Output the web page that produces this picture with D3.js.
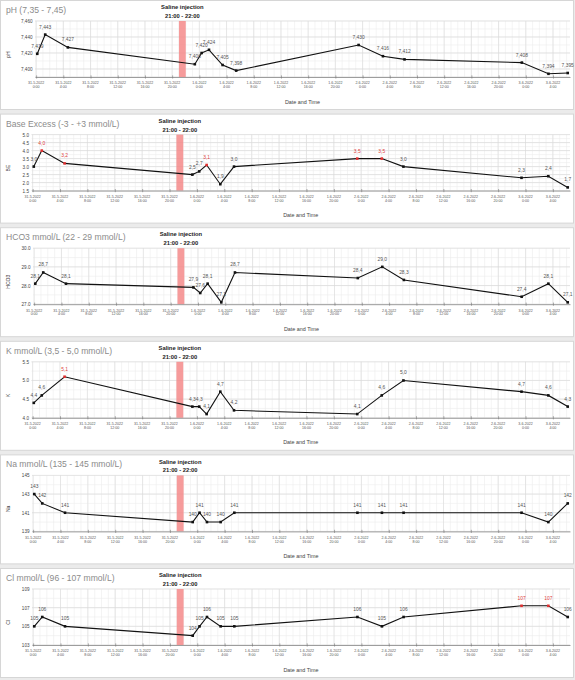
<!DOCTYPE html>
<html>
<head>
<meta charset="utf-8">
<title>Blood values around saline injection</title>
<script src="https://d3js.org/d3.v7.min.js"></script>
<style>
  body { margin: 0; background: #ebebeb; font-family: "Liberation Sans", Arial, sans-serif; }
  svg { display: block; }
</style>
</head>
<body>
<script>
// sample moments (same for every panel)
var sampleTimes = [
  "2022-05-31 00:10", "2022-05-31 01:20", "2022-05-31 04:40", "2022-05-31 23:20",
  "2022-06-01 00:20", "2022-06-01 01:25", "2022-06-01 03:25", "2022-06-01 05:25",
  "2022-06-01 23:25", "2022-06-02 03:00", "2022-06-02 06:10", "2022-06-02 23:25",
  "2022-06-03 03:20", "2022-06-03 06:10"
];
var saline = ["2022-05-31 21:00", "2022-05-31 22:00"];

var phValues   = [7.419, 7.443, 7.427, 7.406, 7.420, 7.424, 7.405, 7.398, 7.430, 7.416, 7.412, 7.408, 7.394, 7.395];
var beValues   = [3.0, 4.0, 3.2, 2.5, 2.7, 3.1, 1.9, 3.0, 3.5, 3.5, 3.0, 2.3, 2.4, 1.7];
var hco3Values = [28.1, 28.7, 28.1, 27.9, 27.6, 28.1, 27.1, 28.7, 28.4, 29.0, 28.3, 27.4, 28.1, 27.1];
var kValues    = [4.4, 4.6, 5.1, 4.3, 4.3, 4.1, 4.7, 4.2, 4.1, 4.6, 5.0, 4.7, 4.6, 4.3];
var naValues   = [143, 142, 141, 140, 141, 140, 140, 141, 141, 141, 141, 141, 140, 142];
var clValues   = [105, 106, 105, 104, 105, 106, 105, 105, 106, 105, 106, 107.2, 107.2, 106];

var titles  = ["pH (7,35 - 7,45)", "Base Excess (-3 - +3 mmol/L)", "HCO3 mmol/L (22 - 29 mmol/L)",
               "K mmol/L (3,5 - 5,0 mmol/L)", "Na mmol/L (135 - 145 mmol/L)", "Cl mmol/L (96 - 107 mmol/L)"];
var yTitles = ["pH", "BE", "HCO3", "K", "Na", "Cl"];
var normalRanges = [[7.35, 7.45], [-3, 3], [22, 29], [3.5, 5.0], [135, 145], [96, 107]];
var yTicks = [
  [7.39, 7.40, 7.42, 7.44, 7.46],
  [1.5, 2.0, 2.5, 3.0, 3.5, 4.0, 4.5, 5.0],
  [27, 28, 29, 30],
  [4.0, 4.5, 5.0, 5.5],
  [139, 141, 143, 145],
  [103, 105, 107, 109]
];
var allValues = [phValues, beValues, hco3Values, kValues, naValues, clValues];

var parseTime = d3.timeParse("%Y-%m-%d %H:%M");
var times = sampleTimes.map(parseTime);

var width = 575, height = 680;
var panelStep = 113.6, panelH = 109;
var plotTop = 21, plotBottom = 77, plotRight = 570;

var svg = d3.select("body").append("svg")
    .attr("width", width)
    .attr("height", height);

function comma(s) { return s.replace(".", ","); }

var panels = [
  { left: 35, tickFmt: function(v) { return v === 7.39 ? "" : comma(d3.format(".3f")(v)); }, labelFmt: function(v) { return comma(d3.format(".3f")(v)); }, minor: 0.01 },
  { left: 31.5, tickFmt: d3.format(".1f"), labelFmt: function(v) { return comma(d3.format(".1f")(v)); }, minor: 0.25 },
  { left: 33, tickFmt: d3.format(".1f"), labelFmt: function(v) { return comma(d3.format(".1f")(v)); }, minor: 0.5 },
  { left: 31.5, tickFmt: d3.format(".1f"), labelFmt: function(v) { return comma(d3.format(".1f")(v)); }, minor: 0.25 },
  { left: 32, tickFmt: d3.format("d"), labelFmt: d3.format(".0f"), minor: 1 },
  { left: 32, tickFmt: d3.format("d"), labelFmt: d3.format(".0f"), minor: 1 }
];

panels.forEach(function(p, i) {
  var values = allValues[i];
  var ticks = yTicks[i];
  var lim = normalRanges[i];
  var pts = times.map(function(t, j) { return { t: t, v: values[j] }; });

  var g = svg.append("g").attr("transform", "translate(0," + (i * panelStep) + ")");

  g.append("rect")
      .attr("x", 0.5).attr("y", 0.5)
      .attr("width", 573).attr("height", panelH)
      .attr("fill", "#fff")
      .attr("stroke", "#d6d6d6");

  var x = d3.scaleTime()
      .domain([d3.timeMinute.offset(times[0], -20), d3.timeMinute.offset(times[times.length - 1], 20)])
      .range([p.left, plotRight]);
  var y = d3.scaleLinear()
      .domain([ticks[0], ticks[ticks.length - 1]])
      .range([plotBottom, plotTop]);

  // grid: hourly / half-step minor lines, 4-hour / tick major lines
  var minorY = d3.range(ticks[0], ticks[ticks.length - 1] + 1e-9, p.minor);
  g.append("g").selectAll("line").data(x.ticks(d3.timeHour.every(1)))
    .enter().append("line")
      .attr("x1", function(d) { return x(d); }).attr("x2", function(d) { return x(d); })
      .attr("y1", plotTop).attr("y2", plotBottom)
      .attr("stroke", "#ececec").attr("stroke-width", 0.6);
  g.append("g").selectAll("line").data(minorY)
    .enter().append("line")
      .attr("x1", p.left).attr("x2", plotRight)
      .attr("y1", function(d) { return y(d); }).attr("y2", function(d) { return y(d); })
      .attr("stroke", "#ececec").attr("stroke-width", 0.6);
  g.append("g").selectAll("line").data(x.ticks(d3.timeHour.every(4)))
    .enter().append("line")
      .attr("x1", function(d) { return x(d); }).attr("x2", function(d) { return x(d); })
      .attr("y1", plotTop).attr("y2", plotBottom)
      .attr("stroke", "#dcdcdc").attr("stroke-width", 0.6);
  g.append("g").selectAll("line").data(ticks)
    .enter().append("line")
      .attr("x1", p.left).attr("x2", plotRight)
      .attr("y1", function(d) { return y(d); }).attr("y2", function(d) { return y(d); })
      .attr("stroke", "#d8d8d8").attr("stroke-width", 0.6);

  // saline band
  var s0 = parseTime(saline[0]), s1 = parseTime(saline[1]);
  g.append("rect")
      .attr("x", x(s0)).attr("y", plotTop)
      .attr("width", x(s1) - x(s0)).attr("height", plotBottom - plotTop)
      .attr("fill", "#f48a8a").attr("opacity", 0.85);
  var sc = (x(s0) + x(s1)) / 2;
  g.append("text").attr("x", sc).attr("y", 9.3).attr("text-anchor", "middle")
      .attr("font-size", 5.8).attr("font-weight", "bold").attr("fill", "#222")
      .text("Saline injection");
  g.append("text").attr("x", sc).attr("y", 18).attr("text-anchor", "middle")
      .attr("font-size", 5.8).attr("font-weight", "bold").attr("fill", "#222")
      .text("21:00 - 22:00");

  // x axis
  var xAxis = g.append("g")
      .attr("transform", "translate(0," + plotBottom + ")")
      .call(d3.axisBottom(x).ticks(d3.timeHour.every(4)).tickSizeInner(1.6).tickSizeOuter(0).tickFormat(""));
  xAxis.select(".domain").attr("stroke", "#888").attr("stroke-width", 0.8);
  xAxis.selectAll(".tick line").attr("stroke", "#777").attr("stroke-width", 0.6).attr("y1", -1.6);
  xAxis.selectAll(".tick text").remove();
  var fmtDay = d3.timeFormat("%-d-%-m-%Y"), fmtHour = d3.timeFormat("%-H:%M");
  var tl = g.append("g").selectAll("text").data(x.ticks(d3.timeHour.every(4)))
    .enter().append("text")
      .attr("text-anchor", "middle")
      .attr("font-size", 3.6).attr("fill", "#555");
  tl.append("tspan").attr("x", function(d) { return x(d); }).attr("y", plotBottom + 7.4).text(fmtDay);
  tl.append("tspan").attr("x", function(d) { return x(d); }).attr("y", plotBottom + 11.2).text(fmtHour);

  g.append("text")
      .attr("x", (p.left + plotRight) / 2).attr("y", 103.5)
      .attr("text-anchor", "middle").attr("font-size", 5.4).attr("fill", "#444")
      .text("Date and Time");

  // y axis
  var yAxis = g.append("g")
      .attr("transform", "translate(" + (p.left - 1) + ",0)")
      .call(d3.axisLeft(y).tickValues(ticks).tickSize(0).tickPadding(1.5).tickFormat(p.tickFmt));
  yAxis.select(".domain").remove();
  yAxis.selectAll("text").attr("font-size", 4.6).attr("fill", "#444").attr("font-family", "Liberation Sans, Arial, sans-serif");

  g.append("text")
      .attr("transform", "translate(10," + (panelH / 2) + ") rotate(-90)")
      .attr("text-anchor", "middle").attr("font-size", 5).attr("fill", "#333")
      .text(yTitles[i]);

  // title
  g.append("text")
      .attr("x", 6).attr("y", 13)
      .attr("font-size", 8.6).attr("fill", "#8c8c8c")
      .text(titles[i]);

  // line and points
  var line = d3.line()
      .x(function(d) { return x(d.t); })
      .y(function(d) { return y(d.v); });
  g.append("path").datum(pts)
      .attr("d", line)
      .attr("fill", "none").attr("stroke", "#111").attr("stroke-width", 1.1);

  function out(v) { return v > lim[1] || v < lim[0]; }

  g.append("g").selectAll("rect").data(pts)
    .enter().append("rect")
      .attr("x", function(d) { return x(d.t) - 1.3; })
      .attr("y", function(d) { return y(d.v) - 1.3; })
      .attr("width", 2.6).attr("height", 2.6)
      .attr("fill", function(d) { return out(d.v) ? "#e03030" : "#111"; });

  g.append("g").selectAll("text").data(pts)
    .enter().append("text")
      .attr("x", function(d) { return x(d.t); })
      .attr("y", function(d) { return y(d.v) - 6; })
      .attr("text-anchor", "middle")
      .attr("font-size", 4.9)
      .attr("fill", function(d) { return out(d.v) ? "#e04040" : "#555"; })
      .text(function(d) { return p.labelFmt(d.v); });
});
</script>
</body>
</html>
